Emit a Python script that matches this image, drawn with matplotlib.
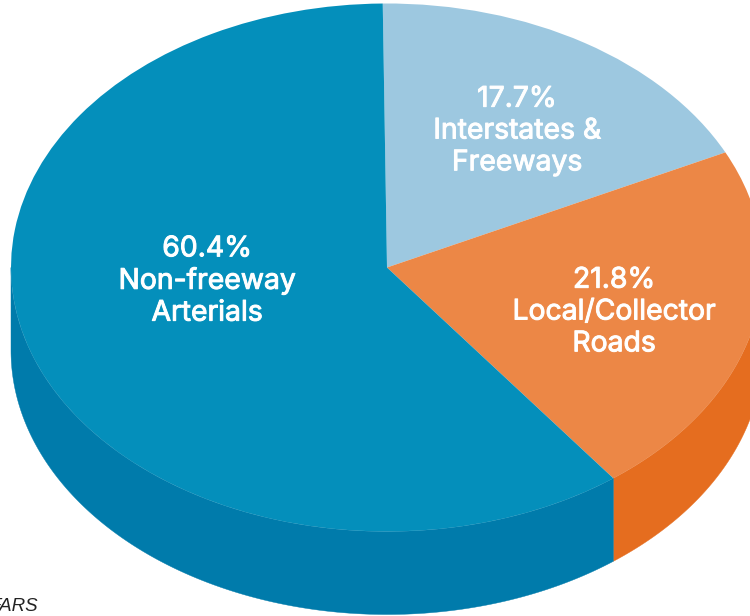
import numpy as np
import matplotlib
matplotlib.use('Agg')
import matplotlib.pyplot as plt
import matplotlib.patheffects as pe

labels = ['17.7%\nInterstates &\nFreeways', '21.8%\nLocal/Collector\nRoads', '60.4%\nNon-freeway\nArterials']
# wedge sizes, the printed labels differ a little from them
shares = [18.0, 21.9, 60.1]
top_colors = ['#9dc8e0', '#ec8746', '#048fbb']
side_colors = ['#7fb0cc', '#e56d1f', '#007bab']

W, H = 750, 616
CX, CY = 387, 267.5
RX, RY = 376, 264
DEPTH = 83 / RY
START = 90.65

fig = plt.figure(figsize=(W / 100, H / 100), dpi=100)
ax = fig.add_axes([0, 0, 1, 1])

# side of the pie, only the front half shows
edges = START - np.cumsum([0] + shares) / sum(shares) * 360
for i in range(len(shares)):
    a0 = max(edges[i + 1], -180)
    a1 = min(edges[i], 0)
    if a1 <= a0:
        continue
    t = np.radians(np.linspace(a0, a1, 200))
    x = np.cos(t)
    y = np.sin(t)
    ax.fill(np.r_[x, x[::-1]], np.r_[y, y[::-1] - DEPTH], color=side_colors[i], lw=0.3, zorder=1)

ax.pie(shares, colors=top_colors, startangle=START, counterclock=False, radius=1,
       normalize=True, wedgeprops={'linewidth': 0, 'zorder': 2})

ax.set_aspect('auto')
ax.set_xlim(-CX / RX, (W - CX) / RX)
ax.set_ylim((CY - H) / RY, CY / RY)
ax.axis('off')

# label positions in pixels, then turned to data coords
label_x = [517, 614, 207]
label_y = [131, 312, 281]
for lab, px, py in zip(labels, label_x, label_y):
    ax.text((px - CX) / RX, (CY - py) / RY, lab, color='white', ha='center', va='center',
            fontsize=20.4, family='Inter', linespacing=1.23, zorder=3,
            path_effects=[pe.withStroke(linewidth=0.7, foreground='white')])

fig.text(38 / W, 1 - 611 / H, 'FARS', ha='right', va='baseline', fontsize=13.5,
         family='Liberation Sans', style='italic', color='#222222')

fig.savefig('out.png', dpi=100)
